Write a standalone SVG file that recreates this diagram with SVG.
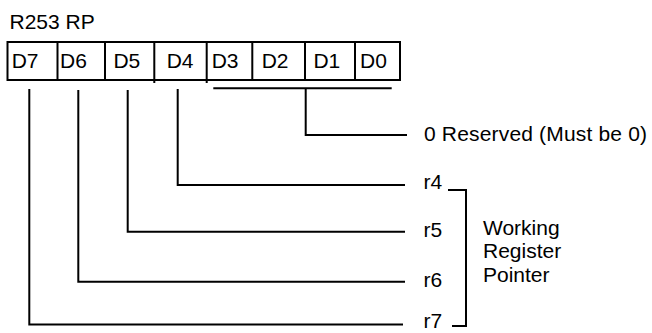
<svg xmlns="http://www.w3.org/2000/svg" width="652" height="333" viewBox="0 0 652 333">
<style>
text{font-family:"Liberation Sans",Arial,sans-serif;font-size:21px;fill:#000}
.ln{stroke:#000;stroke-width:2;fill:none}
</style>
<rect width="652" height="333" fill="#fff"/>
<g id="title"><text x="9.5" y="28.5">R253 RP</text></g>
<g id="register">
<rect class="ln" x="7.5" y="42" width="392.5" height="38"/>
<path class="ln" d="M57.5 42V80M105 42V80M154.3 42V83M206.7 42V83M252.3 42V80M305 42V80M355 42V80"/>
<text x="11.7" y="68.3">D7</text>
<text x="60" y="68.3">D6</text>
<text x="113.4" y="68.3">D5</text>
<text x="166.7" y="68.3">D4</text>
<text x="211.7" y="68.3">D3</text>
<text x="261.7" y="68.3">D2</text>
<text x="313.4" y="68.3">D1</text>
<text x="360" y="68.3">D0</text>
</g>
<g id="connectors">
<path class="ln" d="M213.3 88.3H391.7M305.7 88.3V135H407"/>
<path class="ln" d="M177.7 89V185H405"/>
<path class="ln" d="M127.7 90V231.7H405"/>
<path class="ln" d="M78.3 90V281.7H405"/>
<path class="ln" d="M29.3 89V324.5H403"/>
<path class="ln" d="M448 190H466V326H452"/>
</g>
<g id="reserved"><text x="424" y="141" textLength="223">0 Reserved (Must be 0)</text></g>
<g id="r4"><text x="423.6" y="188.5">r4</text></g>
<g id="r5"><text x="423.6" y="237">r5</text></g>
<g id="r6"><text x="423.6" y="287">r6</text></g>
<g id="r7"><text x="423.6" y="328">r7</text></g>
<g id="wrp">
<text x="483" y="235">Working</text>
<text x="483" y="258.3">Register</text>
<text x="483" y="281.7">Pointer</text>
</g>
</svg>
